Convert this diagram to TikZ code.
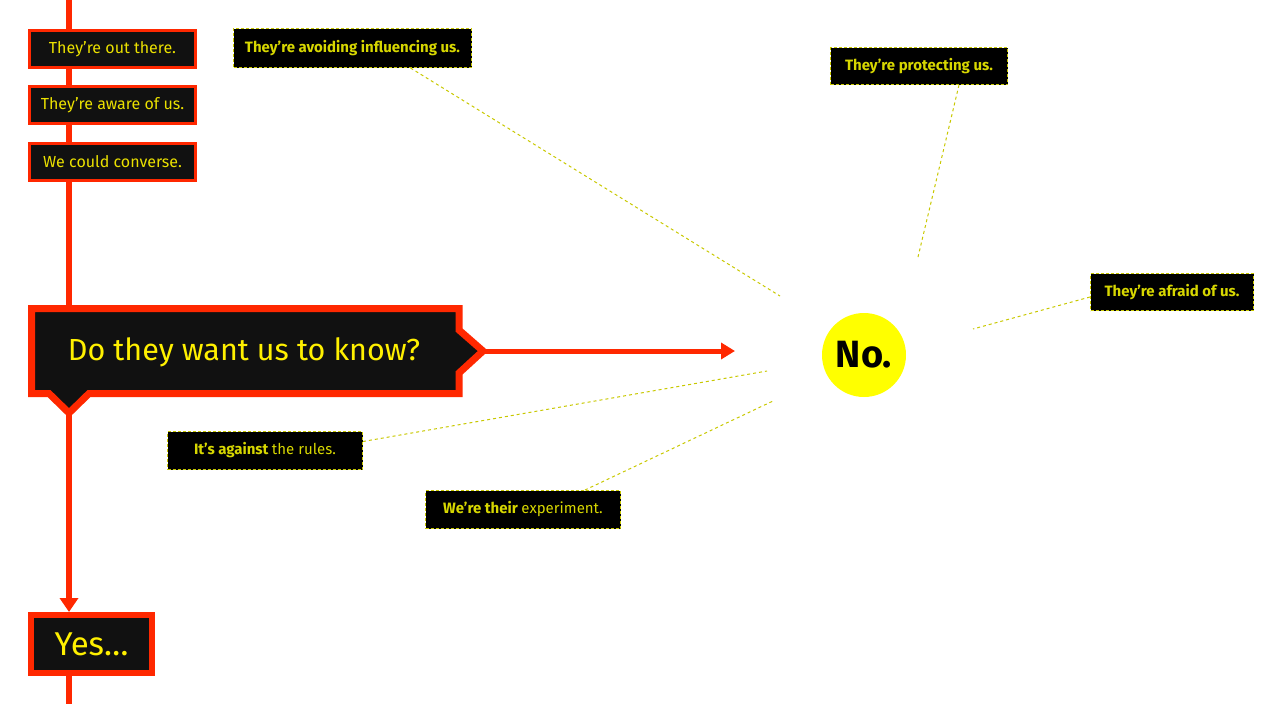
\documentclass[tikz,border=0pt]{standalone}
\usepackage{fontspec}
\setmainfont{Fira Sans}
\usetikzlibrary{arrows.meta,backgrounds}
\definecolor{flowred}{RGB}{255,40,0}
\definecolor{boxblack}{RGB}{17,17,17}
\definecolor{stepyellow}{RGB}{235,225,0}
\definecolor{bigyellow}{RGB}{255,240,0}
\definecolor{reasonyellow}{RGB}{215,215,0}
\definecolor{dashyellow}{RGB}{200,200,0}
\definecolor{noyellow}{RGB}{255,255,0}

\begin{document}
\begin{tikzpicture}[x=1pt,y=-1pt,
  stepbox/.style={draw=flowred,line width=3pt,fill=boxblack,text=stepyellow,minimum width=166pt,minimum height=37pt,inner sep=0pt,font=\fontsize{16}{18}\selectfont},
  reason/.style={draw=dashyellow,densely dashed,line width=1pt,fill=black,text=reasonyellow,inner sep=0pt,font=\bfseries\fontsize{15}{17}\selectfont},
  redline/.style={flowred,line width=6pt},
  hint/.style={dashyellow,dashed,line width=1pt}]
\useasboundingbox (0,0) rectangle (1280,704);
\coordinate (top) at (69,0);
\coordinate (bot) at (69,704);
\coordinate (qtip) at (69,413);
\coordinate (qr) at (483,351);
\coordinate (noend) at (735,351);
\node[stepbox] (s1) at (112.5,49) {They’re out there.};
\node[stepbox] (s2) at (112.5,105) {They’re aware of us.};
\node[stepbox] (s3) at (112.5,162) {We could converse.};
\draw[draw=flowred,line width=7pt,fill=boxblack,line join=miter] (31.5,308.5) -- (459,308.5) -- (459,330) -- (qr) -- (459,373) -- (459,393.5) -- (89,393.5) -- (qtip) -- (49,393.5) -- (31.5,393.5) -- cycle;
\node[text=bigyellow,font=\fontsize{30.5}{34}\selectfont] (q) at (244,352) {Do they want us to know?};
\node[stepbox,minimum width=121pt,minimum height=58pt,line width=6pt,text=bigyellow,font=\fontsize{33}{36}\selectfont] (yes) at (91.5,644) {Yes\dots};
\node[circle,fill=noyellow,minimum size=84pt,inner sep=0pt,font=\bfseries\fontsize{38}{40}\selectfont] (no) at (864,355) {No.};
\draw[flowred,line width=5pt,-{Triangle[length=14pt,width=16pt]}] (qr) -- (noend);
\begin{scope}[on background layer]
\draw[redline] (top) -- (qtip);
\draw[redline,-{Triangle[length=14pt,width=18pt]}] (qtip) -- (yes.north -| qtip);
\draw[redline] (yes.south -| qtip) -- (bot);
\end{scope}
\node[reason,minimum width=238pt,minimum height=39pt] (r1) at (352.5,48) {They’re avoiding influencing us.};
\node[reason,minimum width=177pt,minimum height=37pt] (r2) at (919,66) {They’re protecting us.};
\node[reason,minimum width=163pt,minimum height=37pt] (r3) at (1172,292) {They’re afraid of us.};
\node[reason,minimum width=195pt,minimum height=38pt] (r4) at (265,450.5) {It’s against {\mdseries the rules.}};
\node[reason,minimum width=195pt,minimum height=38pt] (r5) at (523,509.5) {We’re their {\mdseries experiment.}};
\coordinate (h1) at (780,296);
\coordinate (h2) at (918,257);
\coordinate (h3) at (973,329);
\coordinate (h4) at (767,371);
\coordinate (h5) at (773,401);
\draw[hint] ([xshift=58pt]r1.south) -- (h1);
\draw[hint] ([xshift=40pt]r2.south) -- (h2);
\draw[hint] ([yshift=-5pt]r3.west) -- (h3);
\draw[hint] ([yshift=9pt]r4.east) -- (h4);
\draw[hint] ([xshift=62pt]r5.north) -- (h5);
\end{tikzpicture}
\end{document}
